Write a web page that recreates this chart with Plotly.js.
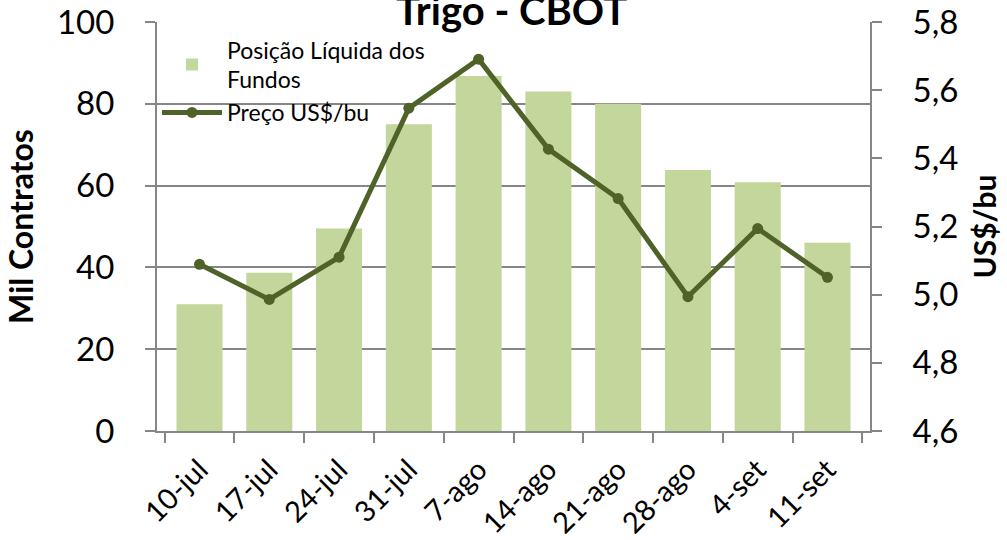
<!DOCTYPE html>
<html><head><meta charset="utf-8">
<script src="https://cdn.plot.ly/plotly-3.0.1.min.js"></script>
<style>html,body{margin:0;padding:0;background:#fff}#c{width:1007px;height:540px}</style>
</head><body><div id="c"></div>
<script>
const categories = ["10-jul","17-jul","24-jul","31-jul","7-ago","14-ago","21-ago","28-ago","4-set","11-set"];
const fundos = [31, 38.7, 49.5, 75, 86.8, 83, 80, 63.8, 60.8, 46];
const preco = [5.089, 4.986, 5.11, 5.547, 5.691, 5.427, 5.282, 4.994, 5.194, 5.051];
const leftTicks = [0,20,40,60,80,100];
const rightTickVals = [4.6,4.8,5.0,5.2,5.4,5.6,5.8];
const rightTickText = ["4,6","4,8","5,0","5,2","5,4","5,6","5,8"];

const font = "Lato, 'Open Sans', sans-serif";
const grey = "#868686";
const data = [
  {type:"bar", x:categories, y:fundos, name:"Posição Líquida dos<br>Fundos",
   marker:{color:"#c3d69b"}, yaxis:"y"},
  {type:"scatter", mode:"lines+markers", x:categories, y:preco, name:"Preço US$/bu",
   line:{color:"#4f6228", width:5}, marker:{color:"#4f6228", size:11}, yaxis:"y2"}
];
const layout = {
  width:1007, height:540,
  margin:{l:157, r:137, t:22, b:109},
  paper_bgcolor:"#fff", plot_bgcolor:"#fff",
  font:{family:font, color:"#000"},
  title:{text:"<b>Trigo - CBOT</b>", font:{size:40, family:font, color:"#000"},
         x:0.508, xref:"container", xanchor:"center", y:1.036, yref:"container", yanchor:"middle"},
  bargap:0.34,
  showlegend:true,
  legend:{x:0.0, y:0.985, xanchor:"left", yanchor:"top", bgcolor:"rgba(0,0,0,0)",
          font:{size:23, family:font}, itemwidth:60},
  xaxis:{type:"category", tickangle:-45, tickfont:{size:29, family:font},
         showline:true, linecolor:grey, linewidth:2, ticks:"outside", ticklen:10,
         tickcolor:grey, tickwidth:2, tickson:"boundaries", showgrid:false, zeroline:false,
         ticklabelstandoff:8},
  yaxis:{range:[0,100], tickvals:leftTicks, tickfont:{size:33, family:font},
         showline:true, linecolor:grey, linewidth:2, ticks:"outside", ticklen:10,
         tickcolor:grey, tickwidth:2, showgrid:true, gridcolor:grey, gridwidth:2,
         zeroline:false, ticklabelstandoff:24,
         title:{text:"<b>Mil Contratos</b>", font:{size:32, family:font}, standoff:14}},
  yaxis2:{range:[4.6,5.8], overlaying:"y", side:"right", tickvals:rightTickVals,
          ticktext:rightTickText, tickfont:{size:33, family:font},
          showline:true, linecolor:grey, linewidth:2, ticks:"outside", ticklen:10,
          tickcolor:grey, tickwidth:2, showgrid:false, zeroline:false, ticklabelstandoff:24,
          title:{text:"<b>US$/bu</b>", font:{size:30, family:font}, standoff:18}}
};
Plotly.newPlot("c", data, layout, {displayModeBar:false, staticPlot:true});
</script></body></html>
